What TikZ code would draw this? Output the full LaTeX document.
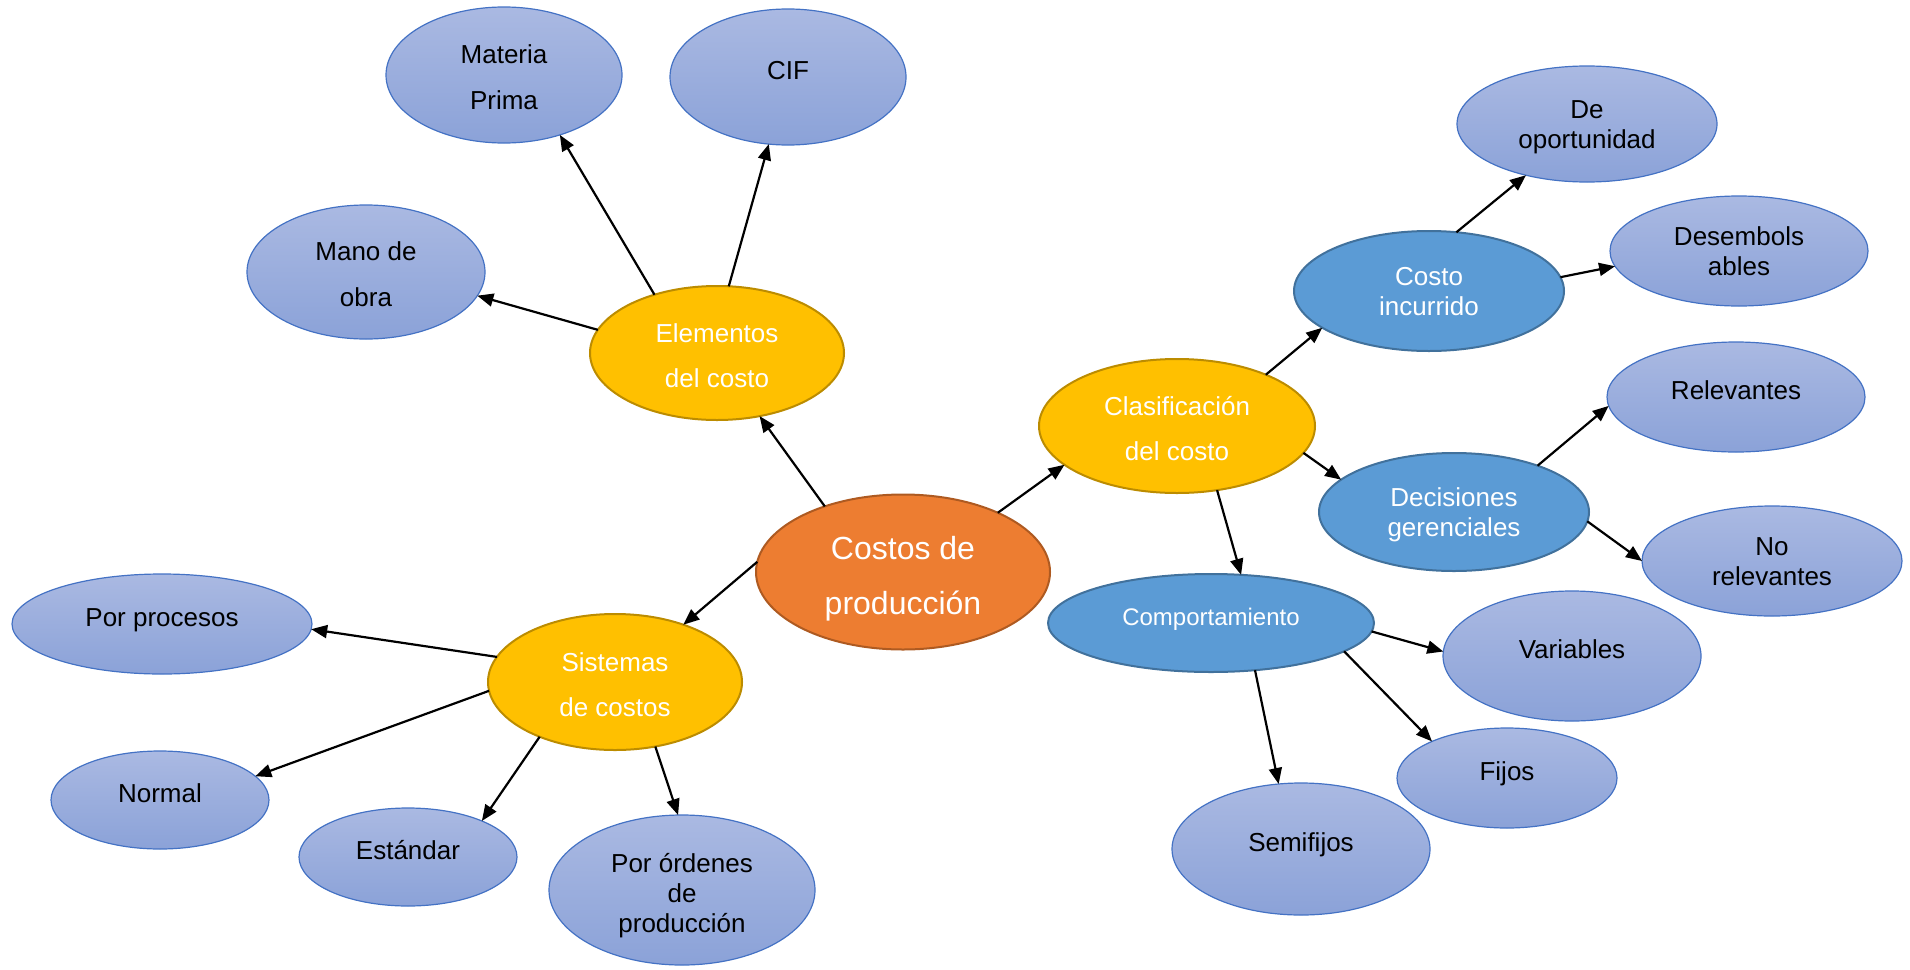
\documentclass[tikz,border=0pt]{standalone}
\usepackage{fontspec}
\setmainfont{Liberation Sans}
\usetikzlibrary{shapes.geometric,arrows.meta}

\definecolor{lbTop}{HTML}{AAB9E2}
\definecolor{lbBot}{HTML}{8BA2D8}
\definecolor{lbLine}{HTML}{4472C4}
\definecolor{dbFill}{HTML}{5B9BD5}
\definecolor{dbLine}{HTML}{41719C}
\definecolor{yFill}{HTML}{FFC000}
\definecolor{yLine}{HTML}{BC8C00}
\definecolor{oFill}{HTML}{ED7D31}
\definecolor{oLine}{HTML}{AE5A21}

% text height/depth below are measured from the baseline of the last line
\tikzset{
  bubble/.style={ellipse, inner sep=0pt, outer sep=0pt, align=center},
  dims/.style 2 args={minimum width=#1pt, minimum height=#2pt},
  leaf/.style={bubble, top color=lbTop, bottom color=lbBot, draw=lbLine, line width=1.2pt, text=black},
  group/.style={bubble, fill=dbFill, draw=dbLine, line width=2pt, text=white},
  branch/.style={bubble, fill=yFill, draw=yLine, line width=2pt, text=white,
    font=\fontsize{26}{45.5}\selectfont, text height=69pt, text depth=0pt},
  root/.style={bubble, fill=oFill, draw=oLine, line width=2pt, text=white,
    font=\fontsize{32}{55}\selectfont, text height=84pt, text depth=0pt},
  oneline/.style={font=\fontsize{26}{30}\selectfont, text height=19pt, text depth=15pt},
  twoline/.style={font=\fontsize{26}{30}\selectfont, text height=49pt, text depth=0pt},
  twowide/.style={font=\fontsize{26}{45.5}\selectfont, text height=68pt, text depth=0pt},
  threeline/.style={font=\fontsize{26}{30}\selectfont, text height=84pt, text depth=0pt},
  link/.style={line width=2.2pt, -{Triangle[length=16pt,width=13pt]}},
}

\begin{document}
\begin{tikzpicture}[x=1pt, y=-1pt]
  \useasboundingbox (0,0) rectangle (1910,969);

  % centre and first-level groups
  \node[root, dims={294}{155}] (costos) at (903,572) {Costos de\\producción};
  \node[branch, dims={254}{134}] (elem) at (717,353) {Elementos\\del costo};
  \node[branch, dims={276}{134}] (clasif) at (1177,426) {Clasificación\\del costo};
  \node[branch, dims={254}{136}] (sist) at (615,682) {Sistemas\\de costos};

  % elementos del costo
  \node[leaf, twowide, dims={236}{136}] (materia) at (504,75) {Materia\\Prima};
  \node[leaf, oneline, dims={236}{136}] (cif) at (788,77) {CIF};
  \node[leaf, twowide, dims={238}{134}] (mano) at (366,272) {Mano de\\obra};

  % sistemas de costos
  \node[leaf, oneline, dims={300}{100}] (porproc) at (162,624) {Por procesos};
  \node[leaf, oneline, dims={218}{98}] (normal) at (160,800) {Normal};
  \node[leaf, oneline, dims={218}{98}] (estandar) at (408,857) {Estándar};
  \node[leaf, threeline, dims={266}{150}] (ordenes) at (682,890) {Por órdenes\\de\\producción};

  % clasificación del costo
  \node[group, twoline, dims={270}{120}] (incurrido) at (1429,291) {Costo\\incurrido};
  \node[group, twoline, dims={270}{118}] (decis) at (1454,512) {Decisiones\\gerenciales};
  \node[group, dims={326}{98}, font=\fontsize{24}{28}\selectfont, text height=18pt, text depth=14pt] (comport) at (1211,623) {Comportamiento};

  \node[leaf, twoline, dims={260}{116}] (oport) at (1587,124) {De\\oportunidad};
  \node[leaf, twoline, dims={258}{110}] (desemb) at (1739,251) {Desembols\\ables};
  \node[leaf, oneline, dims={258}{110}] (relev) at (1736,397) {Relevantes};
  \node[leaf, twoline, dims={260}{110}] (norel) at (1772,561) {No\\relevantes};
  \node[leaf, oneline, dims={258}{130}] (variables) at (1572,656) {Variables};
  \node[leaf, oneline, dims={220}{100}] (fijos) at (1507,778) {Fijos};
  \node[leaf, oneline, dims={258}{132}] (semifijos) at (1301,849) {Semifijos};

  % connectors
  \draw[link] (costos.140) -- (elem.-56);
  \draw[link] (costos.32) -- (clasif.199);
  \draw[link] (costos.176) -- (sist.40);

  \draw[link] (elem.169) -- (mano.-12);
  \draw[link] (elem.137) -- (materia.-47);
  \draw[link] (elem.80) -- (cif.-106);

  \draw[link] (clasif.30) -- (incurrido.199);
  \draw[link] (clasif.-12) -- (decis.164);
  \draw[link] (clasif.-58) -- (comport.58);

  \draw[link] (incurrido.65) -- (oport.220);
  \draw[link] (incurrido.6) -- (desemb.187);
  \draw[link] (decis.29) -- (relev.184);
  \draw[link] (decis.-4) -- (norel.180);

  \draw[link] (comport.-3) -- (variables.178);
  \draw[link] (comport.-12) -- (fijos.154);
  \draw[link] (comport.-47) -- (semifijos.109);

  \draw[link] (sist.168) -- (porproc.-2);
  \draw[link] (sist.184) -- (normal.14);
  \draw[link] (sist.216) -- (estandar.26);
  \draw[link] (sist.-58) -- (ordenes.93);
\end{tikzpicture}
\end{document}
